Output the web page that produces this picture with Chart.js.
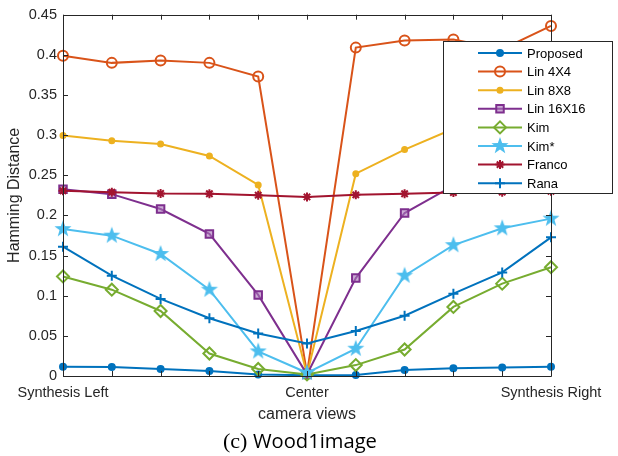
<!DOCTYPE html>
<html>
<head>
<meta charset="utf-8">
<script src="https://cdn.jsdelivr.net/npm/chart.js@4.4.1/dist/chart.umd.min.js"></script>
<style>
  html, body { margin: 0; padding: 0; background: #fff; }
</style>
</head>
<body>
<canvas id="chart" width="618" height="456"></canvas>
<script>
// --------- Data ----------
const views = ["Synthesis Left", "", "", "", "", "Center", "", "", "", "", "Synthesis Right"];
const seriesNames = ["Proposed", "Lin 4X4", "Lin 8X8", "Lin 16X16", "Kim", "Kim*", "Franco", "Rana"];

const proposed = [0.0116, 0.0112, 0.0087, 0.0062, 0.002, 0.001, 0.0012, 0.0074, 0.0095, 0.0107, 0.0116];
const lin4 = [0.399, 0.390, 0.393, 0.390, 0.373, 0.003, 0.409, 0.418, 0.419, 0.407, 0.436];
const lin8 = [0.2996, 0.293, 0.289, 0.274, 0.238, 0.002, 0.252, 0.282, 0.308, 0.318, 0.325];
const lin16 = [0.2326, 0.2265, 0.208, 0.177, 0.101, 0.002, 0.122, 0.203, 0.237, 0.236, 0.238];
const kim = [0.124, 0.1075, 0.081, 0.028, 0.0087, 0.002, 0.0136, 0.033, 0.086, 0.115, 0.1355];
const kimStar = [0.183, 0.1748, 0.152, 0.1075, 0.0306, 0.004, 0.034, 0.125, 0.163, 0.184, 0.196];
const franco = [0.2306, 0.229, 0.2273, 0.227, 0.2252, 0.223, 0.2256, 0.227, 0.2285, 0.229, 0.230];
const rana = [0.161, 0.125, 0.096, 0.072, 0.053, 0.0405, 0.056, 0.075, 0.1025, 0.129, 0.1727];

const yTicksMax = 0.45;
const yStep = 0.05;
const captionTag = "(c)";
const captionName = "Wood1image";

const axisColor = "#262626";
const fontFamily = "'Liberation Sans', Arial, sans-serif";

// filled pentagram marker for Kim*
function makeStar(r, color) {
  const c = document.createElement("canvas");
  const s = Math.ceil(r * 2 + 2);
  c.width = s;
  c.height = s;
  const g = c.getContext("2d");
  g.beginPath();
  for (let k = 0; k < 10; k++) {
    const rad = k % 2 ? r * 0.4 : r;
    const a = -Math.PI / 2 + (k * Math.PI) / 5;
    const px = s / 2 + rad * Math.cos(a);
    const py = s / 2 + rad * Math.sin(a);
    if (k) g.lineTo(px, py); else g.moveTo(px, py);
  }
  g.closePath();
  g.fillStyle = color;
  g.fill();
  return c;
}

function series(i, data, color, style, radius, fill) {
  return {
    label: seriesNames[i],
    data: data,
    borderColor: color,
    backgroundColor: color,
    borderWidth: 2,
    tension: 0,
    pointStyle: style,
    pointRadius: radius,
    pointBorderWidth: 2,
    pointBorderColor: color,
    pointBackgroundColor: fill,
    clip: false,
    order: 7 - i,
  };
}

const datasets = [
  series(0, proposed, "#0072BD", "circle", 3, "#0072BD"),
  series(1, lin4, "#D95319", "circle", 5, "rgba(255,255,255,0)"),
  series(2, lin8, "#EDB120", "circle", 2.5, "#EDB120"),
  series(3, lin16, "#7E2F8E", "rect", 5.3, "rgba(170,120,185,0.6)"),
  series(4, kim, "#77AC30", "rectRot", 6, "rgba(255,255,255,0)"),
  series(5, kimStar, "#4DBEEE", makeStar(9, "#4DBEEE"), 9, "#4DBEEE"),
  series(6, franco, "#A2142F", "star", 4.5, "#A2142F"),
  series(7, rana, "#0072BD", "cross", 5, "#0072BD"),
];

// --------- Axes box, inward ticks, legend, caption ----------
const matlabDecor = {
  id: "matlabDecor",
  afterDraw(chart) {
    const ctx = chart.ctx;
    const a = chart.chartArea;
    const xs = chart.scales.x;
    const ys = chart.scales.y;
    ctx.save();

    // box + ticks
    ctx.strokeStyle = axisColor;
    ctx.lineWidth = 1;
    ctx.beginPath();
    ctx.rect(Math.round(a.left) + 0.5, Math.round(a.top) + 0.5, Math.round(a.right - a.left), Math.round(a.bottom - a.top));
    const tl = 5;
    for (let i = 0; i < views.length; i++) {
      const px = Math.round(xs.getPixelForValue(i)) + 0.5;
      ctx.moveTo(px, a.bottom); ctx.lineTo(px, a.bottom - tl);
      ctx.moveTo(px, a.top); ctx.lineTo(px, a.top + tl);
    }
    ys.ticks.forEach((t) => {
      const py = Math.round(ys.getPixelForValue(t.value)) + 0.5;
      ctx.moveTo(a.left, py); ctx.lineTo(a.left + tl, py);
      ctx.moveTo(a.right, py); ctx.lineTo(a.right - tl, py);
    });
    ctx.stroke();

    // legend box
    const lx = 443, ly = 41, lw = 169, lh = 152;
    ctx.fillStyle = "#fff";
    ctx.fillRect(lx, ly, lw, lh);
    ctx.strokeStyle = "#262626";
    ctx.strokeRect(lx + 0.5, ly + 0.5, lw, lh);
    ctx.font = "13px " + fontFamily;
    ctx.textBaseline = "middle";
    ctx.textAlign = "left";
    chart.data.datasets.forEach((ds, i) => {
      const ry = 53 + i * 18.6;
      ctx.strokeStyle = ds.borderColor;
      ctx.lineWidth = 2;
      ctx.beginPath();
      ctx.moveTo(478, ry); ctx.lineTo(522, ry);
      ctx.stroke();
      ctx.fillStyle = ds.pointBackgroundColor;
      ctx.strokeStyle = ds.pointBorderColor;
      ctx.lineWidth = ds.pointBorderWidth;
      Chart.helpers.drawPoint(ctx, {
        pointStyle: ds.pointStyle, radius: ds.pointRadius, rotation: 0, borderWidth: ds.pointBorderWidth,
      }, 500, ry);
      ctx.fillStyle = "#000";
      ctx.fillText(ds.label, 527, ry + 1);
    });

    // caption
    ctx.fillStyle = "#000";
    ctx.textBaseline = "alphabetic";
    ctx.font = "22px 'Liberation Serif', serif";
    ctx.fillText(captionTag, 223, 448);
    ctx.font = "20px 'Open Sans', sans-serif";
    const w = ctx.measureText(captionName).width;
    const fs = 20 * 124 / w;
    ctx.font = fs.toFixed(2) + "px 'Open Sans', sans-serif";
    ctx.fillText(captionName, 253, 448);
    ctx.restore();
  },
};

new Chart(document.getElementById("chart"), {
  type: "line",
  data: { labels: views, datasets: datasets },
  plugins: [matlabDecor],
  options: {
    responsive: false,
    animation: false,
    devicePixelRatio: 1,
    layout: { padding: { top: 13, right: 67, bottom: 0, left: 0 } },
    plugins: { legend: { display: false }, tooltip: { enabled: false } },
    scales: {
      x: {
        type: "category",
        offset: false,
        grid: { display: false, drawTicks: false },
        border: { display: false },
        ticks: {
          autoSkip: false, maxRotation: 0, padding: 8.5, color: axisColor,
          font: { family: fontFamily, size: 14.5 },
        },
        title: {
          display: true, text: "camera views", color: axisColor,
          font: { family: fontFamily, size: 16 }, padding: { top: 0, bottom: 32 },
        },
        afterFit(scale) { scale.height = 80; },
      },
      y: {
        min: 0,
        max: yTicksMax,
        grid: { display: false, drawTicks: false },
        border: { display: false },
        ticks: {
          stepSize: yStep, padding: 6, color: axisColor,
          font: { family: fontFamily, size: 14.5 },
          callback: (v) => String(Math.round(v * 100) / 100),
        },
        title: {
          display: true, text: "Hamming Distance", color: axisColor,
          font: { family: fontFamily, size: 16 }, padding: { top: 5, bottom: 0 },
        },
        afterFit(scale) { scale.width = 63; },
      },
    },
  },
});
</script>
</body>
</html>
